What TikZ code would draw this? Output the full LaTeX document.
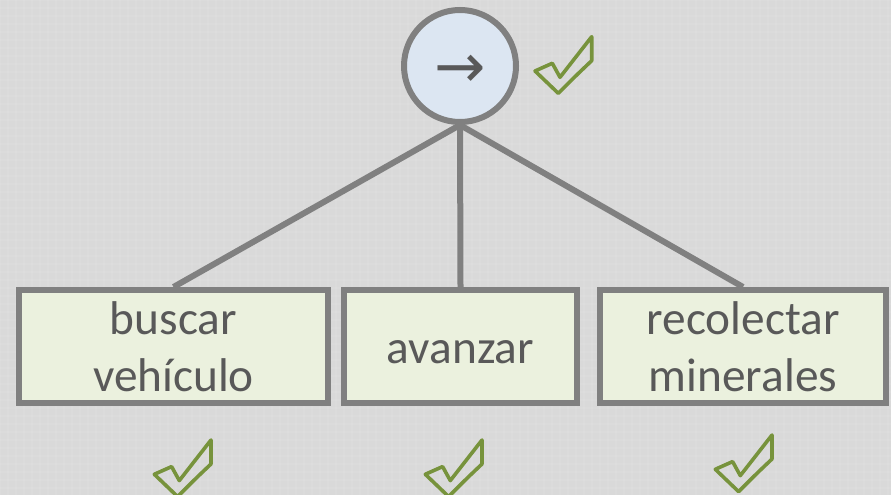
\documentclass[tikz,border=0pt]{standalone}
\usepackage{fontspec}
\setmainfont{Carlito}
\newfontfamily\flechafont{DejaVu Sans}

\definecolor{fondo}{HTML}{D9D9D9}
\definecolor{borde}{HTML}{808080}
\definecolor{cajaverde}{HTML}{EBF1DE}
\definecolor{circazul}{HTML}{DCE6F2}
\definecolor{textogris}{HTML}{595959}
\definecolor{verdecheck}{HTML}{77933C}

\newcommand{\tareafont}{\fontsize{35.5}{43}\selectfont}

\begin{document}
\begin{tikzpicture}[x=0.75pt, y=-0.75pt,
    secuencia/.style={circle, draw=borde, line width=4.5pt, fill=circazul,
        text=textogris, minimum size=84pt, inner sep=0pt},
    tarea/.style={rectangle, draw=borde, line width=4.5pt, fill=cajaverde,
        text=textogris, align=center, font=\tareafont,
        minimum height=84.75pt, inner sep=0pt},
    rama/.style={draw=borde, line width=4.5pt},
    hecho/.pic={
        \draw[verdecheck, line width=2.7pt, line join=round]
            (-23.3,-22.3) -- (-6,-30) -- (1.7,-16) -- (33.4,-56.6)
            -- (33.4,-32.6) .. controls (18,-18) .. (0,0) -- cycle;
    }]
    \path[use as bounding box] (0,0) rectangle (891,495);
    \fill[fondo] (0,0) rectangle (891,495);
    % textura suave del fondo
    \foreach \x in {0,8,...,888}
        \draw[white, opacity=0.07, line width=1pt] (\x,0) -- (\x,495);
    \foreach \y in {0,8,...,488}
        \draw[white, opacity=0.07, line width=1pt] (0,\y) -- (891,\y);

    % nodo secuencia y sus tres hijos
    \node[secuencia] (raiz) at (460,66)
        {\flechafont\fontsize{46}{46}\selectfont\raisebox{-16pt}[0pt][0pt]{→}};
    \node[tarea, minimum width=231.75pt] (buscar) at (173.5,346.5) {buscar\\vehículo};
    \node[tarea, minimum width=174.75pt] (avanzar) at (460.5,346.5)
        {\raisebox{-4pt}[\height][\depth]{avanzar}};
    \node[tarea, minimum width=214.5pt] (recolectar) at (743,346.5) {recolectar\\minerales};

    \draw[rama] (raiz.south) -- (buscar.north);
    \draw[rama] (raiz.south) -- (avanzar.north);
    \draw[rama] (raiz.south) -- (recolectar.north);

    % marcas de completado
    \pic at (558.3,93.3) {hecho};
    \pic at (177.6,496.6) {hecho};
    \pic at (448.6,496.6) {hecho};
    \pic at (738.6,491.6) {hecho};
\end{tikzpicture}
\end{document}
